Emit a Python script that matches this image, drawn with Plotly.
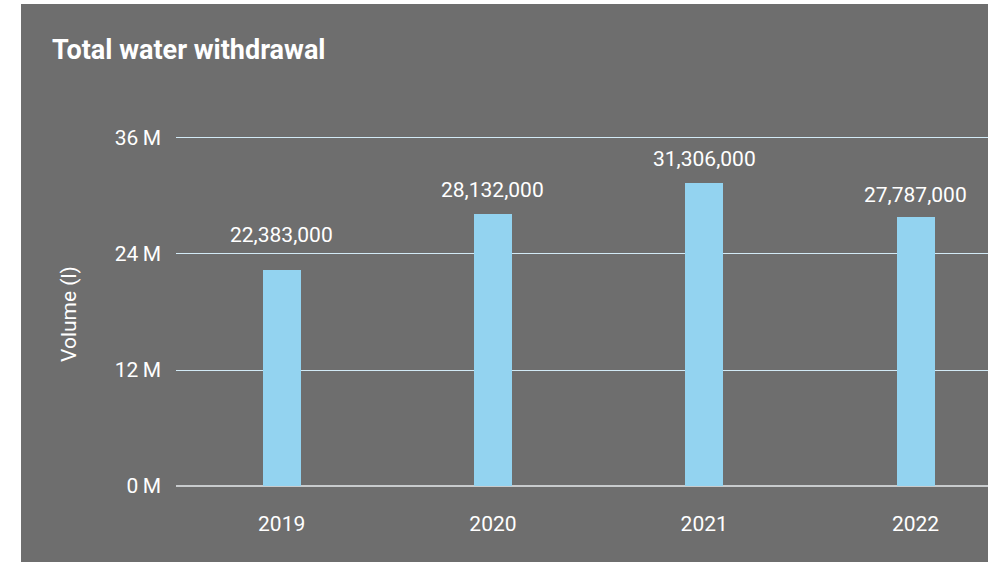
import plotly.graph_objects as go

# Annual totals
years = ["2019", "2020", "2021", "2022"]
withdrawal = [22383000, 28132000, 31306000, 27787000]

y_tickvals = [0, 12000000, 24000000, 36000000]
y_ticktext = ["0\u2009M", "12\u2009M", "24\u2009M", "36\u2009M"]

# vertical lift of each value label above its bar (px)
label_lift = [35, 24, 24, 22]

W, H = 988, 562
ML, MR, MT, MB = 176, 0, 120, 76
PW, PH = W - ML - MR, H - MT - MB

BG = "#6e6e6e"
BAR = "#93d3f0"
FONT = "Roboto"


def px_x(p):
    return (p - ML) / PW


def px_y(p):
    return (H - MB - p) / PH


fig = go.Figure()
fig.add_trace(go.Bar(
    x=years, y=withdrawal, width=0.18,
    text=[f"{v:,}" for v in withdrawal], textposition="none",
    marker=dict(color=BAR, line=dict(width=0)),
    hoverinfo="skip",
))

# value labels: category positions are addressed by index
for i, (v, lift) in enumerate(zip(withdrawal, label_lift)):
    fig.add_annotation(
        x=i, y=v, xref="x", yref="y", text=f"{v:,}", showarrow=False,
        yanchor="middle", xanchor="center", yshift=lift,
        font=dict(family=FONT, size=21, color="#ffffff"),
    )

# panel background
fig.add_shape(
    type="rect", xref="paper", yref="paper",
    x0=px_x(21), x1=px_x(988), y0=px_y(562), y1=px_y(4),
    fillcolor=BG, line=dict(width=0), layer="below",
)

fig.add_annotation(
    xref="paper", yref="paper", x=px_x(50), y=px_y(50),
    xanchor="left", yanchor="middle", showarrow=False,
    text="<b>Total water withdrawal</b>",
    font=dict(family=FONT, size=27, color="#ffffff"),
)
fig.add_annotation(
    xref="paper", yref="paper", x=px_x(69), y=px_y(314),
    xanchor="center", yanchor="middle", showarrow=False, textangle=-90,
    text="Volume (l)",
    font=dict(family=FONT, size=21, color="#ffffff"),
)

fig.update_layout(
    width=W, height=H,
    margin=dict(l=ML, r=MR, t=MT, b=MB, pad=0),
    paper_bgcolor="#ffffff", plot_bgcolor="rgba(0,0,0,0)",
    showlegend=False, bargap=0,
    xaxis=dict(
        type="category", range=[-0.5, 3.343],
        showgrid=False, zeroline=False, showline=False, ticks="",
        ticklabelstandoff=23,
        tickfont=dict(family=FONT, size=21, color="#ffffff"),
    ),
    yaxis=dict(
        range=[0, (H - MB - MT) / 9.667 * 1e6],
        tickvals=y_tickvals, ticktext=y_ticktext,
        showgrid=True, gridcolor="#d2eaf6", gridwidth=1,
        zeroline=True, zerolinecolor="#c8cbcd", zerolinewidth=2,
        showline=False, ticks="", ticklabelstandoff=14,
        tickfont=dict(family=FONT, size=21, color="#ffffff"),
    ),
)

fig.write_html("out.html")
